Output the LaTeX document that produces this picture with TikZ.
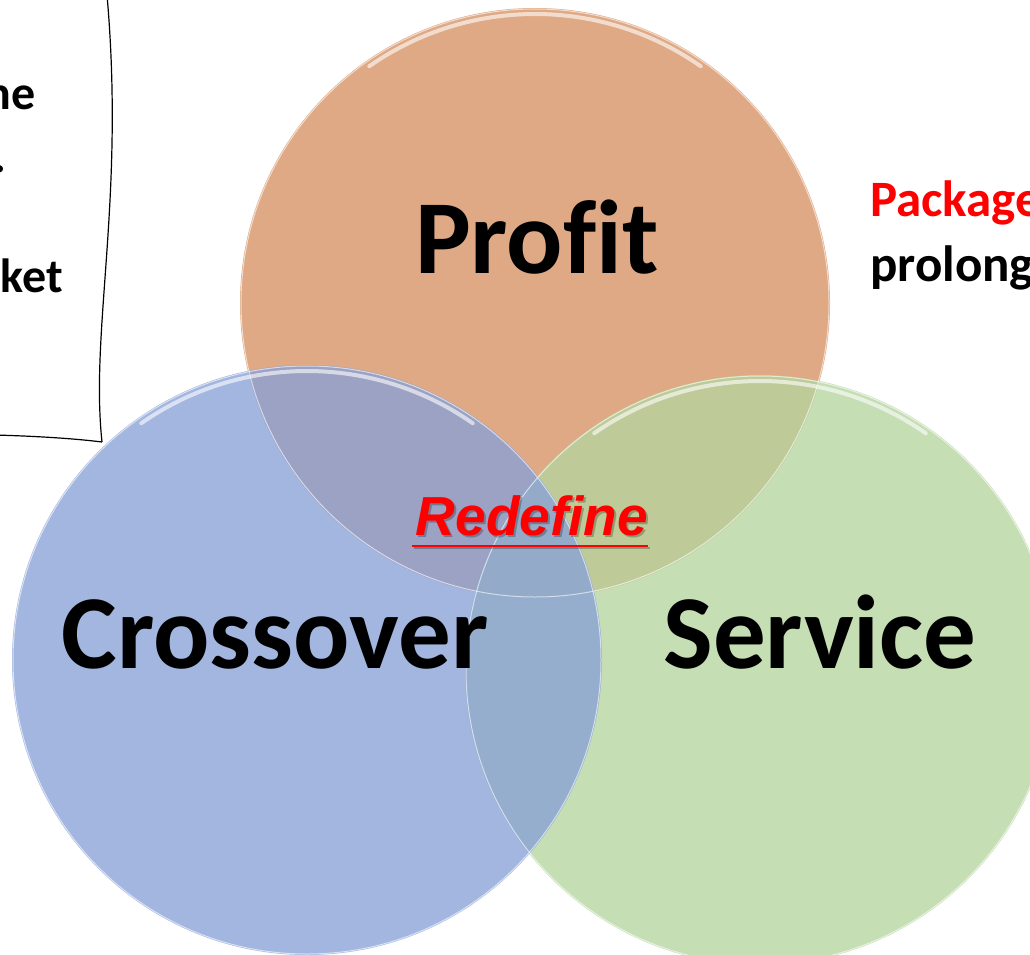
\documentclass[tikz,border=0pt]{standalone}
\usepackage{fontspec}
\setmainfont{Carlito}[Ligatures=NoCommon]
\newfontfamily\arialfont{Liberation Sans}[Ligatures=NoCommon]
\usepackage{tikz}
\usetikzlibrary{positioning, calc}
\definecolor{profitc}{RGB}{223,169,133}
\definecolor{servc}{RGB}{181,213,159}
\definecolor{crossc}{RGB}{136,161,215}

\begin{document}
\begin{tikzpicture}[x=1pt, y=-1pt,
  venn/.style={circle, minimum size=590pt, inner sep=0pt},
  big/.style={font=\fontsize{105}{110}\selectfont\bfseries, inner sep=0pt},
  side/.style={font=\fontsize{48}{52}\selectfont\bfseries, inner sep=0pt}]
\useasboundingbox (0,0) rectangle (1030,955);
\begin{scope}
\clip (0,0) rectangle (1030,955);
% note box
\coordinate (B1) at (107,-5);
\coordinate (B2) at (102,442);
\coordinate (B3) at (-5,435);
\draw[line width=1.2pt] (B1) .. controls (125,200) and (90,330) .. (B2);
\draw[line width=1.2pt] (B3) .. controls (30,436) and (70,438) .. (B2);
\node[side, anchor=base east] (t1) at (36,110) {ne};
\node[side, anchor=base east] (t2) at (7,172) {.};
\node[side, anchor=base east] (t3) at (63,292) {ket};
% circles
\node[venn, fill=profitc] (profit) at (535,303) {};
\node[venn, fill=servc, fill opacity=0.78] (serv) at (760,670) {};
\node[venn, fill=crossc, fill opacity=0.78] (cross) at (307,660) {};
% glass rims
\foreach \c in {profit, serv, cross}
  \draw[white, line width=1pt, opacity=0.6] (\c.center) circle (294);
\foreach \c in {profit, serv, cross}
  \draw[white, line width=4pt, opacity=0.6, line cap=round]
    ($(\c.center)+(235:289)$) arc (235:305:289);
% labels
\node[big, anchor=base] (lprofit) at (537,273) {Profit};
\node[big, anchor=base] (lcross) at (275,668) {Crossover};
\node[big, anchor=base] (lserv) at (820,668) {Service};
\node[side, font=\fontsize{51}{55}\selectfont\bfseries, anchor=base west, text=red] (pack) at (870,216) {Package};
\node[side, font=\fontsize{51}{55}\selectfont\bfseries, anchor=base west] (prol) at (870,281) {prolong};
% center word
\node[anchor=base, inner sep=0pt, text=black, opacity=0.25,
  font=\arialfont\fontsize{55}{60}\selectfont\bfseries\itshape] (shad) at (534,537) {Redefine};
\node[anchor=base, inner sep=0pt, text=red,
  font=\arialfont\fontsize{55}{60}\selectfont\bfseries\itshape] (redef) at (532,535) {Redefine};
\draw[black, opacity=0.25, line width=2pt] ($(redef.base west)+(-2,13)$) -- ($(redef.base east)+(2,13)$);
\draw[red, line width=2pt] ($(redef.base west)+(-4,11)$) -- ($(redef.base east)+(0,11)$);
\end{scope}
\end{tikzpicture}
\end{document}
